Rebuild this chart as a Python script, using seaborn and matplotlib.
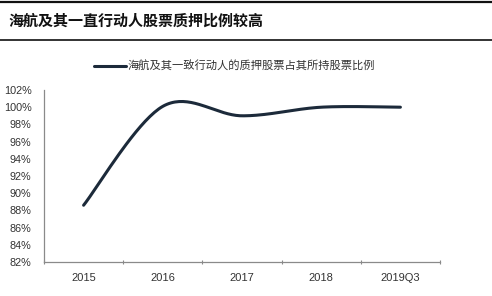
import numpy as np
import pandas as pd
import matplotlib
matplotlib.use("Agg")
import matplotlib.pyplot as plt
from matplotlib.lines import Line2D
from matplotlib.ticker import FixedLocator
import seaborn as sns

# ---- data ----
categories = ["2015", "2016", "2017", "2018", "2019Q3"]
ratio = [88.6, 100.1, 99.0, 100.0, 100.0]
y_ticks = [82, 84, 86, 88, 90, 92, 94, 96, 98, 100, 102]
title = "海航及其一直行动人股票质押比例较高"
series_name = "海航及其一致行动人的质押股票占其所持股票比例"

sns.set_theme(style="white")
plt.rcParams['font.family'] = ['Liberation Sans', 'Noto Sans CJK SC', 'DejaVu Sans']

# Catmull-Rom smoothing (Excel-like smoothed line) through the data points
def smooth(xs, ys, n=40):
    xs = np.asarray(xs, float); ys = np.asarray(ys, float)
    P = np.column_stack([xs, ys])
    P = np.vstack([P[0], P, P[-1]])
    out = []
    for i in range(1, len(P) - 2):
        p0, p1, p2, p3 = P[i - 1], P[i], P[i + 1], P[i + 2]
        c1 = p1 + (p2 - p0) / 6
        c2 = p2 - (p3 - p1) / 6
        t = np.linspace(0, 1, n)[:, None]
        seg = (1 - t) ** 3 * p1 + 3 * (1 - t) ** 2 * t * c1 + 3 * (1 - t) * t ** 2 * c2 + t ** 3 * p2
        out.append(seg if i == 1 else seg[1:])
    return np.vstack(out)

pts = smooth(range(len(categories)), ratio)
df = pd.DataFrame({"x": pts[:, 0], "y": pts[:, 1], "series": series_name})

fig = plt.figure(figsize=(4.92, 2.96), dpi=100)
ax = fig.add_axes([44 / 492, 34 / 296, 396 / 492, 172 / 296])

sns.lineplot(data=df, x="x", y="y", ax=ax, color="#1c2a3a", linewidth=2.2,
             estimator=None, sort=False, legend=False)

ax.set_xlim(-0.5, len(categories) - 0.5)
ax.set_ylim(82, 102)
ax.set_xticks(range(len(categories)))
ax.set_xticklabels(categories)
ax.xaxis.set_minor_locator(FixedLocator(np.arange(-0.5, len(categories), 1.0)))
ax.set_yticks(y_ticks)
ax.set_yticklabels([f"{v}%" for v in y_ticks])
ax.set_xlabel("")
ax.set_ylabel("")

ax.tick_params(axis="x", which="major", length=0, pad=8, labelsize=8, labelcolor="#333333")
ax.tick_params(axis="x", which="minor", length=3.5, width=0.8, direction="inout", color="#888888", bottom=True)
ax.tick_params(axis="y", length=0, pad=9, labelsize=7.8, labelcolor="#333333")

for s in ["top", "right"]:
    ax.spines[s].set_visible(False)
for s in ["left", "bottom"]:
    ax.spines[s].set_color("#8a8a8a")
    ax.spines[s].set_linewidth(0.9)

handle = Line2D([], [], color="#1c2a3a", linewidth=2.2)
fig.legend([handle], [series_name], loc="center", bbox_to_anchor=(234.5 / 492, 1 - 66 / 296),
           frameon=False, prop={"family": ["Noto Sans CJK SC"], "size": 8.1},
           handlelength=2.85, handletextpad=0.2, labelcolor="#333333",
           borderpad=0, borderaxespad=0)

# title band
fig.text(8 / 492, 1 - 21 / 296, title, ha="left", va="center", fontsize=10.8,
         fontweight="bold", family=["Noto Sans CJK SC"], color="#111111")
fig.add_artist(Line2D([0, 1], [1 - 2 / 296, 1 - 2 / 296], color="#111111", linewidth=1.6))
fig.add_artist(Line2D([0, 1], [1 - 40 / 296, 1 - 40 / 296], color="#111111", linewidth=1.2))

fig.savefig("out.png", dpi=100)
